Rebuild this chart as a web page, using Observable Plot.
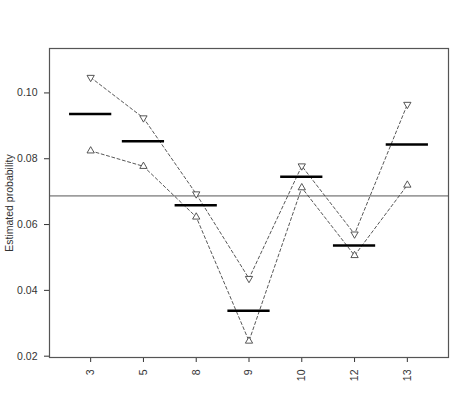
<!DOCTYPE html>
<html>
<head>
<meta charset="utf-8">
<script src="https://cdn.jsdelivr.net/npm/d3@7"></script>
<script src="https://cdn.jsdelivr.net/npm/@observablehq/plot@0.6"></script>
<style>
  html, body { margin: 0; padding: 0; background: #fff; }
  #chart svg { display: block; }
</style>
</head>
<body>
<div id="chart"></div>
<script>
const categories = ["3", "5", "8", "9", "10", "12", "13"];
const upperValues = [0.1047, 0.0924, 0.0693, 0.0436, 0.0778, 0.0571, 0.0965];
const estimateValues = [0.0936, 0.0853, 0.0659, 0.0338, 0.0745, 0.0536, 0.0843];
const lowerValues = [0.0824, 0.0777, 0.0623, 0.0246, 0.0712, 0.0506, 0.0720];
const overallValue = 0.0687;
const yTicks = [0.02, 0.04, 0.06, 0.08, 0.10];

const rows = categories.map((c, i) => ({
  idx: i + 1, cat: c,
  upper: upperValues[i], est: estimateValues[i], lower: lowerValues[i]
}));

const ink = "#444";

const chart = Plot.plot({
  width: 474,
  height: 419,
  marginLeft: 49,
  marginRight: 26,
  marginTop: 48,
  marginBottom: 62,
  style: { fontFamily: "'Liberation Sans', Arial, sans-serif", fontSize: "10.5px", color: "#333", background: "#fff" },
  x: {
    domain: [0.22, 7.78],
    ticks: rows.map(d => d.idx),
    tickFormat: d => categories[d - 1],
    tickRotate: -90,
    tickSize: 5,
    tickPadding: 7,
    label: null
  },
  y: {
    domain: [0.0196, 0.1135],
    ticks: yTicks,
    tickFormat: d => d.toFixed(2),
    tickSize: 5,
    tickPadding: 7,
    label: "Estimated probability",
    labelAnchor: "center",
    labelArrow: "none",
    labelOffset: 44
  },
  marks: [
    Plot.ruleY([overallValue], { stroke: "#555", strokeWidth: 1 }),
    Plot.line(rows, { x: "idx", y: "upper", stroke: ink, strokeWidth: 0.9, strokeDasharray: "3,2.5" }),
    Plot.line(rows, { x: "idx", y: "lower", stroke: ink, strokeWidth: 0.9, strokeDasharray: "3,2.5" }),
    Plot.ruleY(rows, { y: "est", x1: d => d.idx - 0.4, x2: d => d.idx + 0.4, stroke: "#000", strokeWidth: 2.5 }),
    Plot.dot(rows, { x: "idx", y: "upper", symbol: "triangle", rotate: 180, r: 2.7, stroke: ink, fill: "#fff", strokeWidth: 0.9 }),
    Plot.dot(rows, { x: "idx", y: "lower", symbol: "triangle", r: 2.7, stroke: ink, fill: "#fff", strokeWidth: 0.9 }),
    Plot.frame({ stroke: "#555", strokeWidth: 1.2 })
  ]
});
document.getElementById("chart").appendChild(chart);
</script>
</body>
</html>
